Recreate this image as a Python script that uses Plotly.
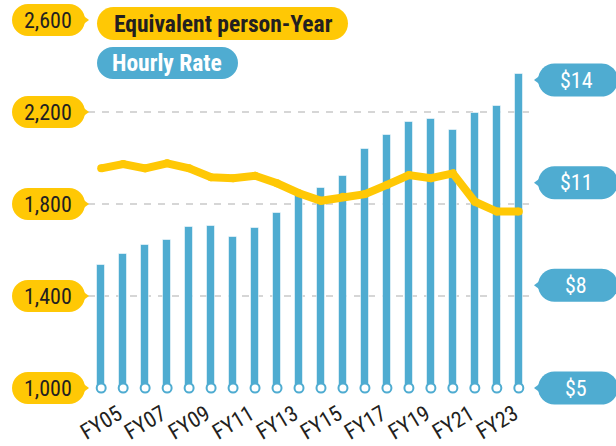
import plotly.graph_objects as go

# ---------------- data ----------------
years = ["FY05", "FY06", "FY07", "FY08", "FY09", "FY10", "FY11", "FY12", "FY13", "FY14",
         "FY15", "FY16", "FY17", "FY18", "FY19", "FY20", "FY21", "FY22", "FY23", "FY24"]
hourly_rate = [8.59, 8.92, 9.19, 9.32, 9.70, 9.74, 9.40, 9.68, 10.11, 10.65,
               10.85, 11.20, 11.98, 12.38, 12.76, 12.85, 12.53, 13.05, 13.24, 14.18]
person_year = [1955, 1974, 1955, 1977, 1955, 1916, 1912, 1923, 1890, 1847,
               1814, 1832, 1843, 1883, 1926, 1912, 1933, 1810, 1767, 1767]
left_ticks = [1000, 1400, 1800, 2200, 2600]
left_tick_text = ["1,000", "1,400", "1,800", "2,200", "2,600"]
right_ticks = [5, 8, 11, 14]
right_tick_text = ["$5", "$8", "$11", "$14"]
label_every = 2
legend_names = ["Equivalent person-Year", "Hourly Rate"]

# ---------------- style ----------------
YEL = "#FFC805"
BLUE = "#4FACD1"
DARK = "#231F20"
GRID = "#D6D6D6"
FONT = "Liberation Sans Narrow, Roboto Condensed, Roboto, sans-serif"
RATE_MIN = 5
RATE_MAX = 5 + 368 / (308 / 9)
PY_MIN, PY_MAX = left_ticks[0], left_ticks[-1]

xs = list(range(len(years)))

fig = go.Figure()
fig.add_trace(go.Bar(x=xs, y=hourly_rate, yaxis="y", width=0.39,
                     marker=dict(color=BLUE, line=dict(color="rgba(255,255,255,0.55)", width=1)),
                     showlegend=False, hoverinfo="skip"))
fig.add_trace(go.Scatter(x=xs, y=[RATE_MIN] * len(xs), yaxis="y", mode="markers",
                         marker=dict(symbol="circle", size=9, color="white",
                                     line=dict(color=BLUE, width=2)),
                         cliponaxis=False, showlegend=False, hoverinfo="skip"))
fig.add_trace(go.Scatter(x=xs, y=person_year, yaxis="y2", mode="lines+markers",
                         line=dict(color=YEL, width=8),
                         marker=dict(color=YEL, size=8),
                         showlegend=False, hoverinfo="skip"))


def pill(L, R, C, h):
    r = h
    k = 0.5523 * r
    return (f"M {L + r},{C + h} L {R - r},{C + h} "
            f"C {R - r + k},{C + h} {R},{C + k} {R},{C} "
            f"C {R},{C - k} {R - r + k},{C - h} {R - r},{C - h} "
            f"L {L + r},{C - h} "
            f"C {L + r - k},{C - h} {L},{C - k} {L},{C} "
            f"C {L},{C + k} {L + r - k},{C + h} {L + r},{C + h} Z")


def frac(v, lo, hi):
    return (v - lo) / (hi - lo)


shapes = []
annotations = []

# left tick badges (yellow)
for v, t in zip(left_ticks, left_tick_text):
    yp = frac(v, PY_MIN, PY_MAX)
    shapes.append(dict(type="path", xref="paper", yref="paper", xsizemode="pixel", ysizemode="pixel",
                       xanchor=0, yanchor=yp, path=pill(-76, -3, 0, 16),
                       fillcolor=YEL, line=dict(width=0), layer="above"))
    shapes.append(dict(type="path", xref="paper", yref="paper", xsizemode="pixel", ysizemode="pixel",
                       xanchor=0, yanchor=yp, path="M -7,6 L 1,0 L -7,-6 Z",
                       fillcolor=YEL, line=dict(width=0), layer="above"))
    annotations.append(dict(xref="paper", yref="y2", x=0, y=v, xshift=-40, text=t,
                            showarrow=False, xanchor="center", yanchor="middle",
                            font=dict(family=FONT, size=22, color=DARK)))

# right tick badges (blue)
for v, t in zip(right_ticks, right_tick_text):
    yp = frac(v, RATE_MIN, RATE_MAX)
    shapes.append(dict(type="path", xref="paper", yref="paper", xsizemode="pixel", ysizemode="pixel",
                       xanchor=1, yanchor=yp, path=pill(6, 86, 0, 16.5),
                       fillcolor=BLUE, line=dict(width=0), layer="above"))
    shapes.append(dict(type="path", xref="paper", yref="paper", xsizemode="pixel", ysizemode="pixel",
                       xanchor=1, yanchor=yp, path="M 10,6 L 2,0 L 10,-6 Z",
                       fillcolor=BLUE, line=dict(width=0), layer="above"))
    annotations.append(dict(xref="paper", yref="y", x=1, y=v, xshift=44, text=t,
                            showarrow=False, xanchor="center", yanchor="middle",
                            font=dict(family=FONT, size=22, color="white")))

# legend pills
shapes.append(dict(type="path", xref="paper", yref="paper", xsizemode="pixel", ysizemode="pixel",
                   xanchor=0, yanchor=1, path=pill(9, 260, -3.5, 16.5),
                   fillcolor=YEL, line=dict(width=0), layer="above"))
shapes.append(dict(type="path", xref="paper", yref="paper", xsizemode="pixel", ysizemode="pixel",
                   xanchor=0, yanchor=1, path=pill(9, 150, -43, 16),
                   fillcolor=BLUE, line=dict(width=0), layer="above"))
annotations.append(dict(xref="paper", yref="paper", x=0, y=1, xshift=24, yshift=-3.5,
                        text=f"<b>{legend_names[0]}</b>", showarrow=False,
                        xanchor="left", yanchor="middle",
                        font=dict(family=FONT, size=23.5, color=DARK)))
annotations.append(dict(xref="paper", yref="paper", x=0, y=1, xshift=22, yshift=-43,
                        text=f"<b>{legend_names[1]}</b>", showarrow=False,
                        xanchor="left", yanchor="middle",
                        font=dict(family=FONT, size=23.5, color="white")))

# x labels
for i in range(0, len(years), label_every):
    annotations.append(dict(xref="x", yref="paper", x=i, y=0, yshift=-34, text=years[i],
                            showarrow=False, xanchor="center", yanchor="middle", textangle=-31,
                            font=dict(family=FONT, size=22, color=DARK)))

fig.update_layout(
    width=616, height=446,
    margin=dict(l=88, r=84, t=20, b=58),
    paper_bgcolor="white", plot_bgcolor="white",
    bargap=0,
    xaxis=dict(range=[-0.6, len(years) - 1 + 0.6], showgrid=False, zeroline=False,
               showticklabels=False, showline=False, fixedrange=True),
    yaxis=dict(side="right", range=[RATE_MIN, RATE_MAX], showgrid=False, zeroline=False,
               showticklabels=False, showline=False),
    yaxis2=dict(overlaying="y", side="left", range=[PY_MIN, PY_MAX],
                tickvals=left_ticks, showticklabels=False, showgrid=True,
                gridcolor=GRID, gridwidth=2, griddash="7px,7px", zeroline=False, showline=False),
    shapes=shapes,
    annotations=annotations,
    showlegend=False,
)

fig.write_html("out.html", config={"displayModeBar": False},
               post_script="document.body.style.margin='0';document.body.style.overflow='hidden';")
